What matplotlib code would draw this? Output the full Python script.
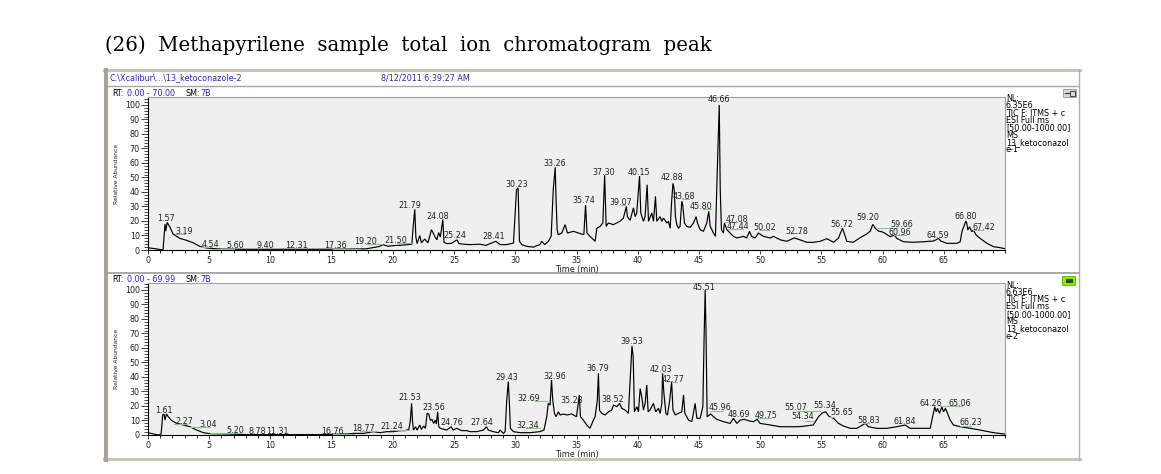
import matplotlib
matplotlib.use("Agg")
import matplotlib.pyplot as plt
from matplotlib.patches import Rectangle
from matplotlib.ticker import MultipleLocator

# ---------------- data ----------------
top_t = [0.0, 0.5, 1.0, 1.23, 1.39, 1.45, 1.57, 1.78, 2.05, 2.6, 3.14, 3.68, 4.23, 4.77, 5.32, 6.0,
         8.0, 10.0, 12.0, 14.0, 16.0, 17.84, 18.93, 19.2, 19.6, 20.0, 20.5, 21.0, 21.55, 21.65, 21.79,
         21.88, 21.98, 22.2, 22.33, 22.6, 22.87, 23.15, 23.28, 23.42, 23.6, 23.74, 23.88, 24.08, 24.18,
         24.4, 24.78, 25.24, 25.4, 25.8, 26.3, 27.1, 27.6, 28.41, 28.76, 29.3, 29.85, 30.1, 30.23, 30.34,
         30.53, 30.94, 31.48, 32.0, 32.16, 32.4, 32.7, 32.93, 33.1, 33.26, 33.33, 33.42, 33.5, 33.8,
         34.07, 34.26, 34.75, 35.3, 35.6, 35.74, 35.86, 36.1, 36.52, 36.66, 36.93, 37.15, 37.30, 37.42,
         37.6, 38.0, 38.56, 38.83, 39.07, 39.16, 39.38, 39.65, 39.79, 39.92, 40.15, 40.25, 40.47, 40.6,
         40.77, 40.88, 41.15, 41.29, 41.45, 41.56, 41.83, 41.97, 42.1, 42.38, 42.51, 42.65, 42.78, 42.88,
         42.98, 43.08, 43.19, 43.33, 43.46, 43.6, 43.68, 43.82, 44.0, 44.28, 44.55, 44.77, 44.88, 45.1,
         45.37, 45.64, 45.80, 45.92, 46.19, 46.35, 46.5, 46.66, 46.74, 46.84, 47.0, 47.08, 47.28, 47.55,
         47.82, 48.1, 48.64, 48.9, 49.13, 49.3, 49.6, 49.86, 50.27, 50.82, 51.09, 51.64, 52.18, 52.78,
         53.27, 53.81, 54.36, 54.9, 55.45, 56.0, 56.4, 56.72, 56.86, 57.08, 57.6, 58.17, 58.7, 59.0,
         59.20, 59.4, 59.67, 59.94, 60.2, 60.62, 60.96, 61.16, 61.71, 62.5, 63.34, 64.16, 64.59, 64.75,
         65.25, 66.07, 66.34, 66.48, 66.80, 66.88, 66.96, 67.1, 67.29, 67.42, 67.65, 67.97, 68.52, 69.06,
         69.6, 69.95]
top_i = [1.5, 1.0, 0.3, 0.3, 18, 13, 19, 16, 11, 8, 6.7, 5, 2.5, 1.4, 1.0, 0.6,
         0.5, 0.5, 0.5, 0.5, 0.6, 0.8, 2.5, 3.7, 2.6, 3.0, 3.2, 3.5, 4.0, 15, 28,
         9, 4.4, 10, 5, 7.5, 5, 14, 12, 9.4, 7, 12, 9, 21, 5.3,
         4.4, 4.6, 7, 4.4, 4, 3.7, 4, 3.2, 6, 3.7, 3.7, 4.8, 41.6, 42.8, 6,
         3.7, 2.5, 2, 3.7, 6, 3.7, 6, 9.4, 41.6, 57, 35, 14, 10.6, 11.7,
         17.5, 11.7, 12.9, 11.3, 10.6, 31, 11.7, 9.4, 6, 15, 16.3, 18.6, 51.5, 16.3,
         18.6, 17.5, 19.8, 22, 30, 23, 20.5, 29, 23, 25.5, 51, 25.5, 19.8, 23,
         45, 19.8, 25.5, 19.8, 37, 19.8, 23, 19.8, 22, 18.6, 19.8, 15, 34.7, 46,
         41.6, 23, 17.5, 15, 16.3, 33.6, 31, 18.6, 16.3, 15.6, 18.6, 23, 18.6, 14,
         12.9, 18.6, 26.7, 16.3, 11.7, 9.4, 55, 100, 41.6, 14, 11.7, 18.6, 14, 11.7,
         9.4, 8.3, 9.4, 8.3, 12.9, 9.4, 8.3, 11.7, 9.4, 8.3, 9.4, 7, 6, 8.3,
         7, 5.3, 5.3, 6, 7.8, 5.3, 8.3, 15, 11.7, 6, 5.3, 8.5, 11, 13,
         17.7, 15, 13, 12.6, 11.5, 9.2, 10.3, 8, 5.7, 5.3, 5.7, 6.2, 8, 6.2,
         4.6, 4.6, 5.7, 12.6, 20, 18.4, 13.8, 16, 12.6, 13.8, 10.3, 8, 4.6, 2.3,
         1.6, 1.0]

bot_t = [0.0, 0.44, 0.85, 1.07, 1.2, 1.31, 1.39, 1.51, 1.66, 1.93, 2.34, 2.89, 3.43, 3.98, 4.52, 5.07,
         6.43, 8.0, 10.0, 12.0, 14.0, 16.23, 16.78, 17.6, 18.41, 18.96, 19.5, 20.05, 20.6, 21.0, 21.3,
         21.42, 21.53, 21.6, 21.68, 21.85, 21.98, 22.2, 22.33, 22.52, 22.66, 22.8, 22.93, 23.07, 23.2,
         23.33, 23.47, 23.55, 23.66, 23.75, 23.88, 24.4, 24.76, 24.92, 25.22, 25.63, 26.04, 26.31, 26.86,
         27.4, 27.64, 27.8, 28.2, 28.62, 28.76, 29.03, 29.17, 29.3, 29.43, 29.52, 29.6, 29.85, 30.39, 31.2,
         32.0, 32.34, 32.57, 32.69, 32.84, 32.96, 33.06, 33.2, 33.33, 33.52, 33.66, 33.93, 34.2, 34.61,
         35.0, 35.23, 35.32, 35.56, 35.84, 36.1, 36.38, 36.52, 36.7, 36.79, 36.88, 37.07, 37.34, 37.61,
         37.88, 38.02, 38.29, 38.52, 38.7, 38.97, 39.24, 39.4, 39.53, 39.63, 39.73, 39.93, 40.06, 40.2,
         40.33, 40.47, 40.6, 40.74, 40.85, 41.0, 41.28, 41.47, 41.69, 41.83, 41.97, 42.03, 42.14, 42.3,
         42.43, 42.6, 42.77, 42.88, 43.06, 43.33, 43.6, 43.74, 43.85, 44.15, 44.42, 44.69, 44.83, 45.1,
         45.32, 45.43, 45.51, 45.58, 45.67, 45.96, 46.19, 46.46, 47.0, 47.55, 47.82, 48.1, 48.37, 48.69,
         49.2, 49.46, 49.75, 50.0, 50.82, 51.63, 52.45, 53.07, 53.5, 54.34, 54.77, 55.04, 55.34, 55.65,
         56.0, 56.4, 56.8, 57.36, 57.9, 58.58, 58.85, 59.53, 60.35, 61.16, 61.84, 62.25, 63.07, 63.89,
         64.03, 64.26, 64.38, 64.49, 64.65, 64.84, 64.98, 65.14, 65.3, 65.52, 65.79, 66.34, 67.16, 67.97,
         69.06, 69.95]
bot_i = [1.6, 0.7, 0.0, 0.7, 13.8, 14.5, 10.3, 14.5, 12.6, 10, 8, 6.9, 5.7, 3.4, 1.6, 0.9,
         0.7, 0.3, 0.3, 0.3, 0.3, 0.7, 1.1, 1.1, 2.3, 1.6, 2.3, 2.3, 3.0, 3.0, 3.9,
         9.2, 21.8, 10, 3.4, 5.7, 3.4, 6.9, 3.9, 6.2, 4.6, 15, 14.5, 10, 10.8,
         8, 10.3, 7.6, 16, 5.7, 4.6, 3.4, 5.7, 3.4, 4.6, 3.0, 3.0, 2.3, 2.3,
         3.4, 5.7, 3.4, 2.3, 1.6, 3.4, 1.1, 2.3, 24, 36.8, 21.8, 4.6, 2.3, 1.6, 1.6,
         2.3, 3.4, 12.6, 21.8, 20.7, 38, 24, 14.9, 12.6, 16, 13.8, 14.5, 13.8, 14.5,
         12.6, 27.6, 12.6, 10.3, 6.9, 4.6, 10.3, 12.6, 24, 42.5, 17, 14.9, 13.8, 16,
         17.2, 20.7, 19.5, 21.8, 18.4, 17.2, 15, 40, 61.4, 54, 16, 19.5, 16, 32,
         26.4, 17.2, 21.8, 34.5, 16, 17.2, 21.8, 16, 18.4, 14.9, 21.8, 42.5, 28.7, 14.9,
         13.8, 23, 36.8, 17.2, 13.8, 14.9, 16, 27.6, 14.9, 10.3, 9.2, 21.8, 11.5, 11.5,
         19.5, 70, 100, 70, 12.6, 14.5, 12.6, 10.8, 9.2, 8, 11.5, 8, 10.3, 10.8,
         9.5, 9.2, 10.8, 8, 6.9, 5.7, 5.7, 5.7, 6.0, 6.9, 12.6, 15, 16, 12.6,
         11.5, 8, 6.2, 4.6, 4.6, 8, 5.7, 4.6, 4.6, 5.7, 6.9, 4.6, 4.6, 4.6,
         10.3, 19.5, 16, 18.4, 14.9, 19.5, 16, 18.4, 14.9, 10.3, 6.9, 5.7, 4.6, 3.4,
         1.6, 0.7]

# peak labels: text, time position, intensity position
top_lab_txt = ["1.57", "3.19", "4.54", "5.60", "9.40", "12.31", "17.36", "19.20", "21.50", "21.79",
               "24.08", "25.24", "28.41", "30.23", "33.26", "35.74", "37.30", "39.07", "40.15",
               "42.88", "43.68", "45.80", "46.66", "47.08", "47.44", "50.02", "52.78", "56.72",
               "59.20", "59.66", "60.96", "64.59", "66.80", "67.42"]
top_lab_t = [1.5, 3.0, 5.1, 7.1, 9.6, 12.1, 15.3, 17.8, 20.2, 21.4, 23.7, 25.1, 28.2, 30.1, 33.2,
             35.6, 37.2, 38.6, 40.1, 42.8, 43.8, 45.2, 46.6, 48.1, 48.2, 50.35, 53.0, 56.7, 58.8,
             61.6, 61.4, 64.5, 66.8, 68.3]
top_lab_i = [21.6, 12.9, 4.1, 3.4, 3.4, 3.4, 3.4, 6.0, 6.4, 30.8, 23.2, 10.0, 9.0, 45.0, 59.5,
             34.0, 53.6, 33.0, 53.6, 49.7, 37.0, 30.0, 103.7, 21.0, 16.3, 15.6, 12.9, 17.5, 22.5,
             17.9, 11.9, 10.3, 23.4, 15.6]

bot_lab_txt = ["1.61", "2.27", "3.04", "5.20", "8.78", "11.31", "16.76", "18.77", "21.24", "21.53",
               "23.56", "24.76", "27.64", "29.43", "32.69", "32.34", "32.96", "35.23", "36.79",
               "38.52", "39.53", "42.03", "42.77", "45.51", "45.96", "48.69", "49.75", "55.07",
               "54.34", "55.34", "55.65", "58.83", "61.84", "64.26", "65.06", "66.23"]
bot_lab_t = [1.3, 3.0, 4.9, 7.1, 8.9, 10.6, 15.1, 17.6, 19.9, 21.4, 23.3, 24.8, 27.3, 29.3, 31.1,
             31.0, 33.2, 34.6, 36.7, 38.0, 39.5, 41.9, 42.9, 45.4, 46.7, 48.3, 50.5, 52.9, 53.5,
             55.3, 56.7, 58.85, 61.8, 63.9, 66.3, 67.2]
bot_lab_i = [16.8, 9.2, 7.4, 3.0, 2.3, 2.3, 2.3, 4.6, 5.7, 25.7, 18.8, 8.5, 8.5, 39.8, 25.3,
             6.4, 40.0, 23.7, 46.0, 24.6, 64.4, 45.5, 38.6, 102.0, 18.8, 14.3, 13.1, 18.8, 12.6,
             20.0, 15.5, 9.9, 9.2, 21.8, 21.4, 8.5]

# green label leader lines: start time, end time, intensity
top_gl_t0 = [2.2, 4.4, 5.3, 15.1, 17.8, 20.3, 38.6, 43.6, 45.3, 47.1, 47.4, 49.9, 52.7, 59.6, 60.9, 67.4]
top_gl_t1 = [3.0, 5.2, 7.0, 17.3, 19.1, 21.5, 39.0, 44.2, 46.0, 48.1, 48.6, 50.7, 53.3, 61.2, 61.9, 68.2]
top_gl_i = [11, 2, 1, 0.8, 4, 4.6, 31, 35, 28, 19, 14.5, 13.8, 11.5, 15, 10.5, 14]

bot_gl_t0 = [2.1, 3.4, 5.1, 15.1, 17.3, 19.8, 31.6, 30.9, 42.8, 46.0, 49.7, 53.0, 53.7, 55.6, 58.5, 64.9, 66.3]
bot_gl_t1 = [3.2, 5.1, 7.0, 16.8, 18.7, 21.3, 32.6, 32.0, 43.2, 47.0, 50.9, 54.9, 54.4, 56.0, 58.9, 66.5, 67.2]
bot_gl_i = [7.6, 5.7, 1.1, 0.8, 3.0, 3.4, 23.7, 4.6, 36.8, 16.8, 11.7, 16.8, 9.9, 12.6, 8.0, 20.0, 6.2]

x_ticks = [0, 5, 10, 15, 20, 25, 30, 35, 40, 45, 50, 55, 60, 65]
y_ticks = [0, 10, 20, 30, 40, 50, 60, 70, 80, 90, 100]

top_info = ["NL:", "6.35E6", "TIC F: ITMS + c", "ESI Full ms", "[50.00-1000.00]", "MS",
            "13_ketoconazol", "e-1"]
bot_info = ["NL:", "6.63E6", "TIC F: ITMS + c", "ESI Full ms", "[50.00-1000.00]", "MS",
            "13_ketoconazol", "e-2"]

# ---------------- figure ----------------
W, H = 1161, 474
fig = plt.figure(figsize=(W / 100, H / 100), dpi=100)
fig.patch.set_facecolor("white")

bg = fig.add_axes([0, 0, 1, 1])
bg.set_xlim(0, W)
bg.set_ylim(H, 0)
bg.axis("off")

BLUE = "#2b2bb0"
SMALL = 5.8

# title
bg.text(105, 45, "(26)  Methapyrilene  sample  total  ion  chromatogram  peak",
        family="DejaVu Serif", fontsize=14.2, va="center", ha="left", color="black")

# window frame
bg.plot([104, 1080], [70, 70], color="#cbc5b6", lw=2.2)
bg.plot([104, 1080], [459, 459], color="#cbc5b6", lw=2.2)
bg.plot([106, 106], [70, 460], color="#a9a397", lw=3)
bg.plot([1079, 1079], [70, 460], color="#b0b0b0", lw=1)
bg.plot([108, 1079], [86, 86], color="#a8a8a8", lw=1)
bg.plot([108, 1079], [273, 273], color="#a8a8a8", lw=1.4)

bg.text(110, 77.5, r"C:\Xcalibur\...\13_ketoconazole-2", color=BLUE, fontsize=SMALL, va="center")
bg.text(381, 77.5, "8/12/2011 6:39:27 AM", color=BLUE, fontsize=SMALL, va="center")


def rt_line(y, rng):
    bg.text(112, y, "RT:", color="black", fontsize=SMALL, va="center")
    bg.text(127, y, rng, color=BLUE, fontsize=SMALL, va="center")
    bg.text(186, y, "SM:", color="black", fontsize=SMALL, va="center")
    bg.text(200, y, "7B", color=BLUE, fontsize=SMALL, va="center")


rt_line(93, "0.00 - 70.00")
rt_line(279.5, "0.00 - 69.99")

for i, s in enumerate(top_info):
    bg.text(1006, 98.5 + 7.3 * i, s, fontsize=SMALL, va="center", ha="left", color="black")
for i, s in enumerate(bot_info):
    bg.text(1006, 285 + 7.3 * i, s, fontsize=SMALL, va="center", ha="left", color="black")

# small window icons
bg.add_patch(Rectangle((1063, 89), 13, 8, facecolor="#d8d8d8", edgecolor="#909090", lw=0.6))
bg.plot([1065, 1069], [93, 93], color="#303030", lw=0.8)
bg.add_patch(Rectangle((1069.5, 90.5), 5, 5, facecolor="none", edgecolor="#303030", lw=0.6))
bg.add_patch(Rectangle((1062, 276), 13, 9, facecolor="#7df000", edgecolor="#60b000", lw=0.6))
bg.add_patch(Rectangle((1066, 278.5), 6, 3.5, facecolor="#404040", edgecolor="#202020", lw=0.5))


def px_axes(l, t, r, b):
    return fig.add_axes([l / W, 1 - b / H, (r - l) / W, (b - t) / H])


def style(ax, t, y, ylim_top):
    ax.set_facecolor("#efefef")
    ax.plot(t, y, color="black", lw=0.85, solid_joinstyle="miter")
    ax.set_xlim(0, 70)
    ax.set_ylim(0, ylim_top)
    ax.set_xticks(x_ticks)
    ax.set_yticks(y_ticks)
    ax.xaxis.set_minor_locator(MultipleLocator(1))
    ax.yaxis.set_minor_locator(MultipleLocator(2))
    ax.tick_params(axis="both", which="major", labelsize=SMALL, colors="#222222", width=0.6, pad=1)
    ax.tick_params(axis="x", which="major", length=3)
    ax.tick_params(axis="x", which="minor", length=2.5, width=0.6)
    ax.tick_params(axis="y", which="major", length=5)
    ax.tick_params(axis="y", which="minor", length=3, width=0.5)
    for sp in ("left", "bottom"):
        ax.spines[sp].set_color("black")
        ax.spines[sp].set_linewidth(0.8)
    for sp in ("top", "right"):
        ax.spines[sp].set_color("#a0a0a0")
        ax.spines[sp].set_linewidth(0.8)
    ax.set_xlabel("Time (min)", fontsize=SMALL, labelpad=0.3, color="#222222")
    ax.set_ylabel("Relative Abundance", fontsize=4.3, color="#222222",
                  family=["Liberation Sans Narrow", "DejaVu Sans"])
    ax.yaxis.set_label_coords(-0.034, 0.5)


ax1 = px_axes(148, 97, 1005, 250)
style(ax1, top_t, top_i, 105.5)
for s, x, y in zip(top_lab_txt, top_lab_t, top_lab_i):
    ax1.text(x, y, s, fontsize=SMALL, ha="center", va="center", color="#222222", clip_on=False)
for a, b, y in zip(top_gl_t0, top_gl_t1, top_gl_i):
    ax1.plot([a, b], [y, y], color="#86c886", lw=0.8)

ax2 = px_axes(148, 283, 1005, 435)
style(ax2, bot_t, bot_i, 104.8)
for s, x, y in zip(bot_lab_txt, bot_lab_t, bot_lab_i):
    ax2.text(x, y, s, fontsize=SMALL, ha="center", va="center", color="#222222", clip_on=False)
for a, b, y in zip(bot_gl_t0, bot_gl_t1, bot_gl_i):
    ax2.plot([a, b], [y, y], color="#86c886", lw=0.8)

fig.savefig("out.png", dpi=100, facecolor="white")
